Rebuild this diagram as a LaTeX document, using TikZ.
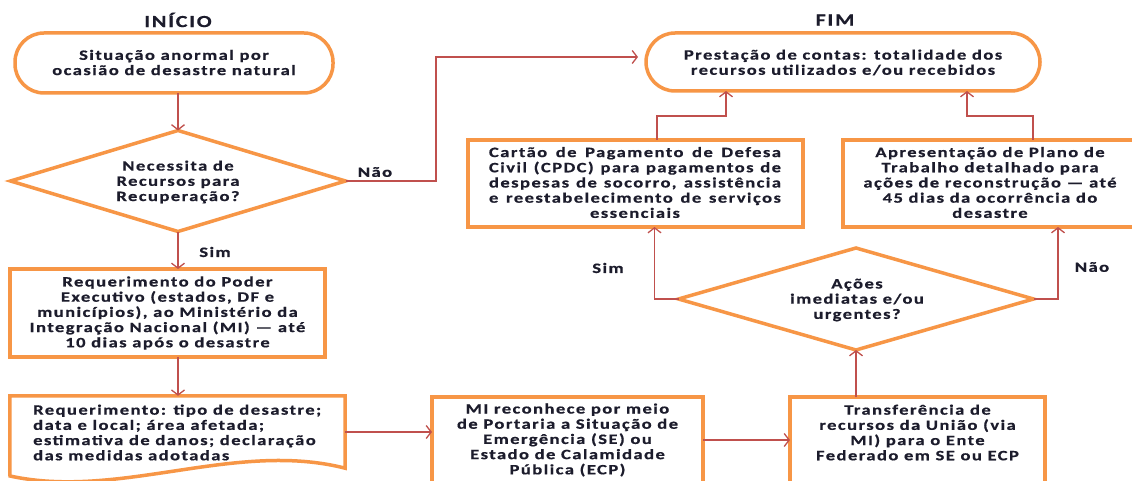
\documentclass[tikz,border=0pt]{standalone}
\usepackage{fontspec}
\setmainfont{Carlito}[FakeStretch=1.3,LetterSpace=10,FakeBold=0.6]
\usetikzlibrary{shapes.geometric,arrows.meta,calc}
\definecolor{orng}{HTML}{F79646}
\definecolor{connc}{HTML}{C0504D}
\definecolor{txtc}{HTML}{1C1C2C}
\begin{document}
\begin{tikzpicture}[x=1pt,y=-1pt,
  shp/.style={draw=orng,line width=3.5pt,inner sep=0pt,outer sep=0pt},
  term/.style={shp,rectangle,rounded corners=29pt},
  boxs/.style={shp,rectangle},
  dia/.style={shp,diamond},
  txt/.style={font=\bfseries\fontsize{14.3}{15.2}\selectfont,text=txtc,align=center,inner sep=0pt},
  lbl/.style={font=\bfseries\fontsize{14.3}{15}\selectfont,text=txtc,inner sep=0pt},
  ttl/.style={font=\bfseries\fontsize{17}{18}\selectfont,text=txtc,inner sep=0pt},
  conn/.style={draw=connc,line width=1.3pt,-{Straight Barb[length=5pt,width=13pt]}}]
\useasboundingbox (0,0) rectangle (1132,481);
\clip (0,0) rectangle (1132,481);
\fill[white] (0,0) rectangle (1132,481);

% titles
\node[ttl] (tini) at (178,20) {INÍCIO};
\node[ttl] (tfim) at (835,20) {FIM};

% shapes
\node[term,minimum width=318pt,minimum height=60pt] (start) at (174,63) {};
\node[term,minimum width=394pt,minimum height=58pt] (fim) at (843,62) {};
\node[dia,minimum width=335pt,minimum height=101pt] (q1) at (178,181) {};
\node[boxs,minimum width=315pt,minimum height=88pt] (req) at (167.5,313) {};
\node[rectangle,inner sep=0pt,minimum width=335pt,minimum height=72pt] (doc) at (177.5,432) {};
\draw[orng,line width=3.5pt,line join=miter] (doc.south east) -- (doc.north east) -- (doc.north west) -- (10,476)
  .. controls (120,500) and (235,440) .. (doc.south east) -- cycle;
\node[boxs,minimum width=271pt,minimum height=113pt] (mi) at (567.5,453.5) {};
\node[boxs,minimum width=255pt,minimum height=113pt] (transf) at (917.5,453.5) {};
\node[dia,minimum width=355pt,minimum height=102pt] (q2) at (856,299) {};
\node[boxs,minimum width=335pt,minimum height=87pt] (cartao) at (635.5,183.5) {};
\node[boxs,minimum width=297pt,minimum height=87pt] (plano) at (991.5,183.5) {};

% texts
\node[txt] (startt) at (174,62.5) {Situação anormal por\\ocasião de desastre natural};
\node[txt] (fimt) at (843,62.5) {Prestação de contas: totalidade dos\\recursos utilizados e/ou recebidos};
\node[txt] (q1t) at (178,182) {Necessita de\\Recursos para\\Recuperação?};
\node[txt] (reqt) at (167.5,313) {Requerimento do Poder\\Executivo (estados, DF e\\municípios), ao Ministério da\\Integração Nacional (MI) — até\\10 dias após o desastre};
\node[txt,align=left,anchor=west] (doct) at (33,432.5) {Requerimento: tipo de desastre;\\data e local; área afetada;\\estimativa de danos; declaração\\das medidas adotadas};
\node[txt] (mit) at (567.5,440) {MI reconhece por meio\\de Portaria a Situação de\\Emergência (SE) ou\\Estado de Calamidade\\Pública (ECP)};
\node[txt] (transft) at (917.5,432.5) {Transferência de\\recursos da União (via\\MI) para o Ente\\Federado em SE ou ECP};
\node[txt] (q2t) at (857,300) {Ações\\imediatas e/ou\\urgentes?};
\node[txt] (cartaot) at (635,182.5) {\makebox[292pt][s]{Cartão de Pagamento de Defesa}\\\makebox[292pt][s]{Civil (CPDC) para pagamentos de}\\\makebox[292pt][s]{despesas de socorro, assistência}\\\makebox[292pt][s]{e reestabelecimento de serviços}\\essenciais};
\node[txt] (planot) at (990,182.5) {Apresentação de Plano de\\Trabalho detalhado para\\ações de reconstrução — até\\45 dias da ocorrência do\\desastre};

% labels
\node[lbl] (nao1) at (375,172) {Não};
\node[lbl] (sim1) at (215,252) {Sim};
\node[lbl] (sim2) at (608,268) {Sim};
\node[lbl] (nao2) at (1092,267) {Não};

% connectors
\draw[conn] (start.south -| q1.north) -- (q1.north);
\draw[conn] (q1.south) -- (q1.south |- req.north);
\draw[conn] (req.south -| q1.south) -- (doc.north -| q1.south);
\draw[conn] (doc.east) -- (doc.east -| mi.west);
\draw[conn] (mi.east |- mit) -- (transf.west |- mit);
\draw[conn] (q2.south |- transf.north) -- (q2.south);
\draw[conn] (q1.east) -- (436,181) |- ([yshift=5pt,xshift=-8pt]fim.west);
\draw[conn] (q2.west) -| ([xshift=19pt]cartao.south);
\draw[conn] (q2.east) -| ([xshift=66.5pt]plano.south);
\draw[conn] ([xshift=21.5pt]cartao.north) -- ++(0,-24) -| ([xshift=-117pt]fim.south);
\draw[conn] ([xshift=41.5pt]plano.north) -- ++(0,-24) -| ([xshift=124pt]fim.south);
\end{tikzpicture}
\end{document}
